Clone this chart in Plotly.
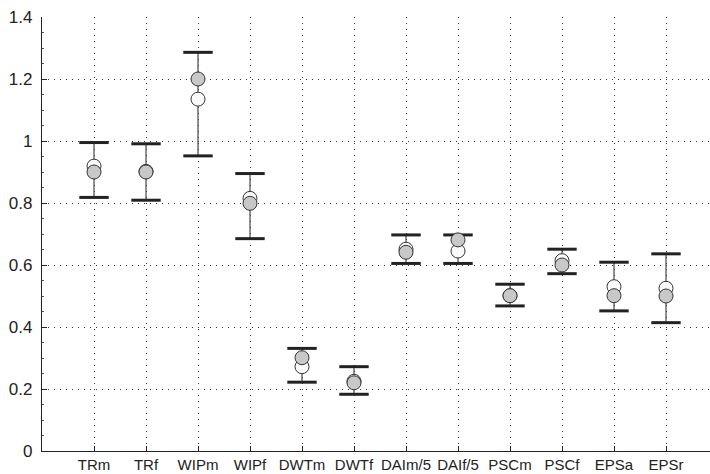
import plotly.graph_objects as go

categories = ["TRm", "TRf", "WIPm", "WIPf", "DWTm", "DWTf", "DAIm/5", "DAIf/5",
              "PSCm", "PSCf", "EPSa", "EPSr"]
white_vals = [0.919, 0.902, 1.135, 0.815, 0.272, 0.225, 0.651, 0.645, 0.501, 0.614, 0.530, 0.525]
gray_vals = [0.900, 0.900, 1.200, 0.799, 0.301, 0.220, 0.641, 0.681, 0.501, 0.600, 0.501, 0.500]
upper_vals = [0.995, 0.991, 1.286, 0.895, 0.331, 0.272, 0.697, 0.697, 0.538, 0.651, 0.609, 0.636]
lower_vals = [0.818, 0.809, 0.952, 0.685, 0.222, 0.183, 0.605, 0.605, 0.468, 0.572, 0.452, 0.414]
y_ticks = [0, 0.2, 0.4, 0.6, 0.8, 1, 1.2, 1.4]
y_tick_labels = ["0", "0.2", "0.4", "0.6", "0.8", "1", "1.2", "1.4"]

xpos = list(range(1, len(categories) + 1))

fig = go.Figure()

# error bar stems
fig.add_trace(go.Scatter(
    x=xpos, y=white_vals, mode="markers",
    marker=dict(size=1, color="rgba(0,0,0,0)"),
    error_y=dict(type="data", symmetric=False,
                 array=[u - w for u, w in zip(upper_vals, white_vals)],
                 arrayminus=[w - l for w, l in zip(white_vals, lower_vals)],
                 width=0, thickness=1.3, color="#555555"),
    showlegend=False, hoverinfo="skip"))

# caps
fig.add_trace(go.Scatter(
    x=xpos + xpos, y=upper_vals + lower_vals, mode="markers",
    marker=dict(symbol="line-ew", size=21, line=dict(width=3, color="#222222")),
    showlegend=False, hoverinfo="skip"))

fig.add_trace(go.Scatter(
    x=xpos, y=white_vals, mode="markers",
    marker=dict(size=14, color="#fafafa", line=dict(width=1, color="#333333")),
    showlegend=False))

fig.add_trace(go.Scatter(
    x=xpos, y=gray_vals, mode="markers",
    marker=dict(size=14, color="#c8c8c8", line=dict(width=1, color="#333333")),
    showlegend=False))

fig.update_layout(
    width=710, height=474,
    margin=dict(l=42, r=0, t=17, b=23),
    paper_bgcolor="white", plot_bgcolor="white",
    font=dict(family="Liberation Sans, Arial, sans-serif", size=15, color="#222222"),
)

fig.update_xaxes(
    range=[0, 668 / 52], tickmode="array", tickvals=xpos, ticktext=categories,
    showline=True, linecolor="#222222", linewidth=1.2,
    ticks="inside", ticklen=5, tickcolor="#222222",
    showgrid=True, gridcolor="#333333", griddash="1px,5px", gridwidth=1,
    zeroline=False, tickfont=dict(size=15, family="Liberation Sans"),
)
fig.update_yaxes(
    range=[0, 1.4], tickmode="array", tickvals=y_ticks, ticktext=y_tick_labels,
    showline=True, linecolor="#222222", linewidth=1.2,
    ticks="inside", ticklen=5, tickcolor="#222222",
    minor=dict(ticks="inside", ticklen=2, dtick=0.05, tickcolor="#555555", showgrid=False),
    showgrid=True, gridcolor="#333333", griddash="1px,5px", gridwidth=1,
    zeroline=False, tickfont=dict(size=17, family="Liberation Sans"), ticklabelstandoff=5,
)

fig.write_html("out.html")
